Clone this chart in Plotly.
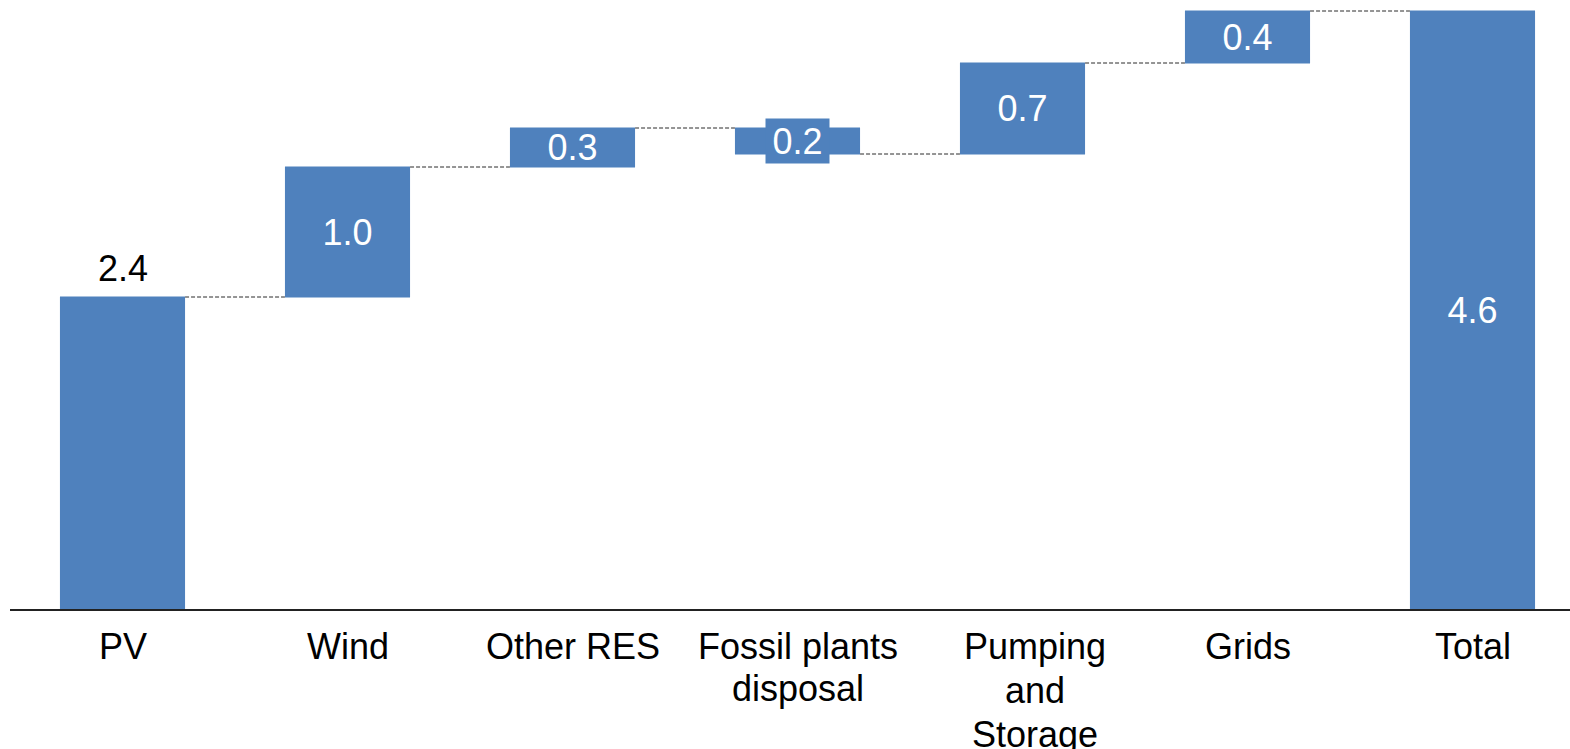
import plotly.graph_objects as go

# Waterfall contributions (bn €)
categories = ["PV", "Wind", "Other RES", "Fossil plants<br>disposal",
              "Pumping<br>and<br>Storage", "Grids", "Total"]
values = [2.4, 1.0, 0.3, -0.2, 0.7, 0.4, 4.6]
measures = ["relative", "relative", "relative", "relative",
            "relative", "relative", "total"]
labels = [f"{abs(v):.1f}" for v in values]

BLUE = "#4F81BD"
FONT = "Liberation Sans, Arial, sans-serif"
FS = 36
LINE_GAP = 42      # px between lines of a category label
FIRST_LINE = 37    # px from axis line to centre of first label line
# the three-line label sits a little right of its bar
LABEL_XSHIFT = {"Pumping<br>and<br>Storage": 12}
LABEL_GAP = {"Pumping<br>and<br>Storage": 44}

# First bar's label sits above the bar, the decrease bar gets a boxed label;
# both are drawn as annotations, the rest as inside bar text.
top_idx = 0
box_idx = 3
bar_text = [t if i not in (top_idx, box_idx) else "" for i, t in enumerate(labels)]

fig = go.Figure(go.Waterfall(
    x=categories,
    y=values,
    measure=measures,
    text=bar_text,
    textposition="inside",
    textangle=0,
    constraintext="none",
    insidetextanchor="middle",
    insidetextfont=dict(color="white", size=FS, family=FONT),
    increasing=dict(marker=dict(color=BLUE, line=dict(width=0))),
    decreasing=dict(marker=dict(color=BLUE, line=dict(width=0))),
    totals=dict(marker=dict(color=BLUE, line=dict(width=0))),
    connector=dict(line=dict(color="#2a2a2a", width=1, dash="4px,2px")),
    width=0.556,
    cliponaxis=False,
))

fig.add_annotation(
    x=categories[top_idx], y=values[top_idx], xref="x", yref="y",
    text=labels[top_idx], showarrow=False, yanchor="bottom", yshift=6,
    font=dict(color="black", size=FS, family=FONT),
)

level_before = sum(values[:box_idx])
level_after = level_before + values[box_idx]
fig.add_annotation(
    x=categories[box_idx], y=(level_before + level_after) / 2,
    xref="x", yref="y", text=labels[box_idx], showarrow=False,
    font=dict(color="white", size=FS, family=FONT),
    bgcolor=BLUE, borderpad=2, width=59, height=40,
)

# Category labels under the axis, one line at a time for tighter leading
for cat in categories:
    gap = LABEL_GAP.get(cat, LINE_GAP)
    for j, line in enumerate(cat.split("<br>")):
        fig.add_annotation(
            x=cat, y=0, xref="x", yref="y", text=line, showarrow=False,
            xanchor="center", yanchor="middle",
            xshift=LABEL_XSHIFT.get(cat, 0),
            yshift=-(FIRST_LINE + j * gap),
            font=dict(color="black", size=FS, family=FONT),
        )

fig.update_layout(
    width=1570, height=749,
    margin=dict(l=10, r=0, t=0, b=140),
    paper_bgcolor="white", plot_bgcolor="white",
    showlegend=False,
    font=dict(family=FONT, size=FS, color="black"),
    xaxis=dict(
        range=[-0.5, (1570 - 10) / 225 - 0.5],
        showline=True, linecolor="#222222", linewidth=2,
        showgrid=False, ticks="", showticklabels=False,
        automargin=False, fixedrange=True,
    ),
    yaxis=dict(
        range=[0, 609 / 130],
        visible=False, showgrid=False, zeroline=False,
        automargin=False, fixedrange=True,
    ),
)

fig.write_html("out.html", config=dict(displayModeBar=False))
